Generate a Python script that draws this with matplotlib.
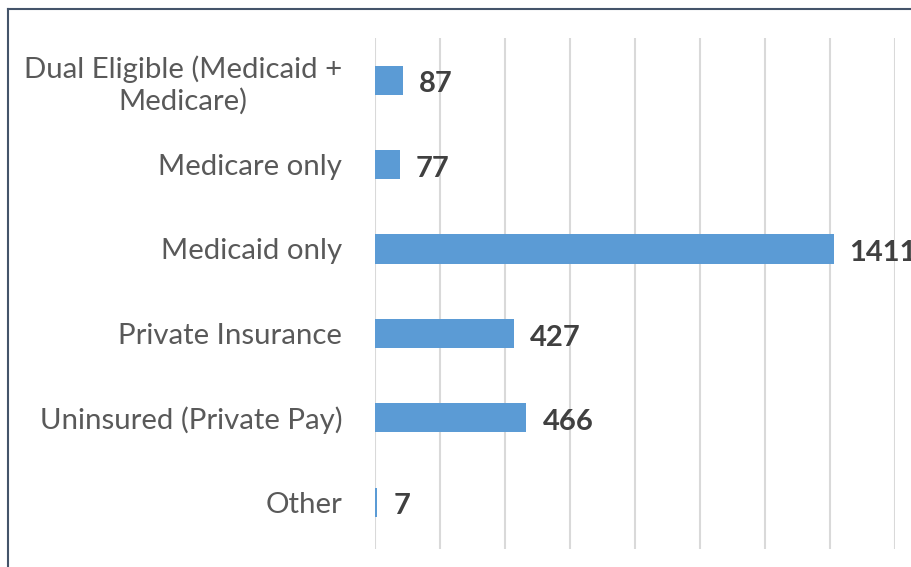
import matplotlib
matplotlib.use("Agg")
import matplotlib.pyplot as plt
from matplotlib.lines import Line2D

categories = ["Dual Eligible (Medicaid +\nMedicare)", "Medicare only", "Medicaid only",
              "Private Insurance", "Uninsured (Private Pay)", "Other"]
values = [87, 77, 1411, 427, 466, 7]
xticks = [0, 200, 400, 600, 800, 1000, 1200, 1400, 1600]

W, H = 912, 567
fig = plt.figure(figsize=(W/100, H/100), dpi=100)
ax = fig.add_axes([375/W, 1-549/H, (895-375)/W, (549-38)/H])

y = list(range(len(categories)))
ax.barh(y, values, height=0.347, color="#5B9BD5", zorder=3)
ax.set_ylim(-0.5 + 511/84.4, -0.5)
ax.set_xlim(0, 1600)
ax.set_xticks(xticks)
ax.xaxis.grid(True, color="#D9D9D9", linewidth=1.5, zorder=0)
ax.tick_params(axis="x", bottom=False, labelbottom=False)
ax.tick_params(axis="y", left=False, pad=20)
ax.set_yticks(y)
ax.set_yticklabels(categories, fontfamily="Lato", fontsize=21.2, color="#595959",
                   multialignment="center")
for s in ax.spines.values():
    s.set_visible(False)

for yi, v in zip(y, values):
    ax.annotate(str(v), (v, yi), xytext=(11.5, -3), textcoords="offset points",
                va="center", ha="left", fontfamily="Lato", fontweight="bold",
                fontsize=21, color="#404040", annotation_clip=False)

fig.add_artist(Line2D([8.5/W, 8.5/W], [0, 1-9/H], transform=fig.transFigure,
                      color="#44546A", linewidth=1.5))
fig.add_artist(Line2D([8.5/W, 1], [1-9/H, 1-9/H], transform=fig.transFigure,
                      color="#44546A", linewidth=1.5))

fig.savefig("out.png", dpi=100)
